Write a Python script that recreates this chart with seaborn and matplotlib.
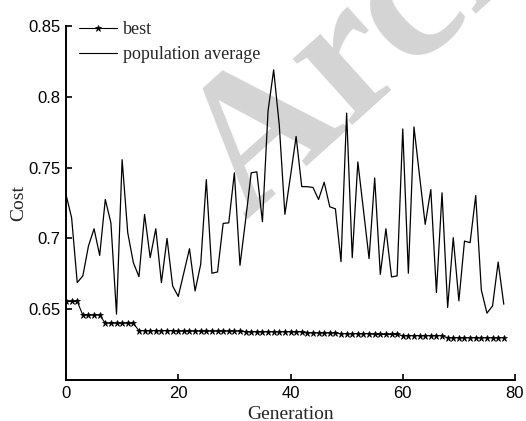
import numpy as np
import pandas as pd
import matplotlib
matplotlib.use("Agg")
import matplotlib.pyplot as plt
import seaborn as sns
from matplotlib.lines import Line2D

generations = list(range(79))
best = ([0.6555] * 3 + [0.6458] * 4 + [0.6401] * 6 + [0.6348] * 7 + [0.6345] * 12
        + [0.6340] * 11 + [0.6332] * 6 + [0.6327] * 6 + [0.6322] * 5
        + [0.6313] * 8 + [0.6298] * 11)
pop_avg = [0.731, 0.7146, 0.6688, 0.6735, 0.6946, 0.7068, 0.688, 0.7275, 0.711, 0.6465,
           0.7556, 0.704, 0.6829, 0.673, 0.7169, 0.6864, 0.7068, 0.6688, 0.700, 0.6664,
           0.659, 0.6758, 0.6927, 0.6629, 0.6817, 0.7415, 0.6754, 0.6763, 0.7106, 0.711,
           0.7463, 0.681, 0.713, 0.7463, 0.747, 0.7118, 0.790, 0.819, 0.780, 0.717,
           0.744, 0.772, 0.7366, 0.7365, 0.736, 0.7275, 0.7397, 0.7223, 0.7209, 0.6836,
           0.7885, 0.6864, 0.754, 0.720, 0.6857, 0.7427, 0.6746, 0.7068, 0.6728, 0.6735,
           0.7773, 0.6754, 0.7787, 0.744, 0.7099, 0.7345, 0.6618, 0.7322, 0.6512, 0.7005,
           0.6559, 0.6981, 0.697, 0.7303, 0.6636, 0.6472, 0.6523, 0.6833, 0.6535]
x_ticks = [0, 20, 40, 60, 80]
y_ticks = [0.65, 0.70, 0.75, 0.80, 0.85]
y_tick_labels = ["0.65", "0.7", "0.75", "0.8", "0.85"]

df = pd.DataFrame({"Generation": generations, "best": best, "population average": pop_avg})

sns.set_style("ticks")
plt.rcParams["font.family"] = ["Liberation Serif", "DejaVu Serif"]

fig = plt.figure(figsize=(5.26, 4.21), dpi=100)
ax = fig.add_axes([66 / 526, 1 - 380 / 421, (515 - 66) / 526, (380 - 26) / 421])

# watermark
ax.text(246 / 526, 1 - 220 / 421, "Archive", transform=fig.transFigure,
        rotation=42, rotation_mode="anchor", ha="left", va="baseline",
        fontsize=138, fontweight="bold", family="Liberation Serif",
        color="#d4d4d4", zorder=0.5, clip_on=False)

sns.lineplot(data=df, x="Generation", y="population average", ax=ax,
             color="black", linewidth=0.9, zorder=3)
sns.lineplot(data=df, x="Generation", y="best", ax=ax, color="black",
             linewidth=0.8, marker="*", markersize=5, markeredgewidth=0.5,
             markeredgecolor="black", zorder=4)

ax.set_xlim(0, 80)
ax.set_ylim(0.6, 0.85)
ax.set_xticks(x_ticks)
ax.set_yticks(y_ticks)
ax.set_yticklabels(y_tick_labels)
for lab in ax.get_xticklabels() + ax.get_yticklabels():
    lab.set_family("Liberation Sans")
    lab.set_fontsize(12)
ax.tick_params(direction="in", length=4, width=1.2, colors="black", pad=4)
ax.set_xlabel("Generation", fontsize=14, labelpad=4)
ax.set_ylabel("Cost", fontsize=14, labelpad=1)
sns.despine(ax=ax)
for s in ["left", "bottom"]:
    ax.spines[s].set_linewidth(1.4)
    ax.spines[s].set_color("black")
ax.patch.set_alpha(0)

handles = [Line2D([], [], color="black", linewidth=0.8, marker="*", markersize=5,
                  markeredgewidth=0.5),
           Line2D([], [], color="black", linewidth=0.8)]
leg = ax.legend(handles, ["best", "population average"], loc="upper left",
                bbox_to_anchor=(72 / 526, 1 - 14 / 421), bbox_transform=fig.transFigure,
                frameon=False, fontsize=13, handlelength=2.1, handletextpad=0.3,
                labelspacing=0.45, borderaxespad=0)

fig.savefig("out.png", dpi=100)
